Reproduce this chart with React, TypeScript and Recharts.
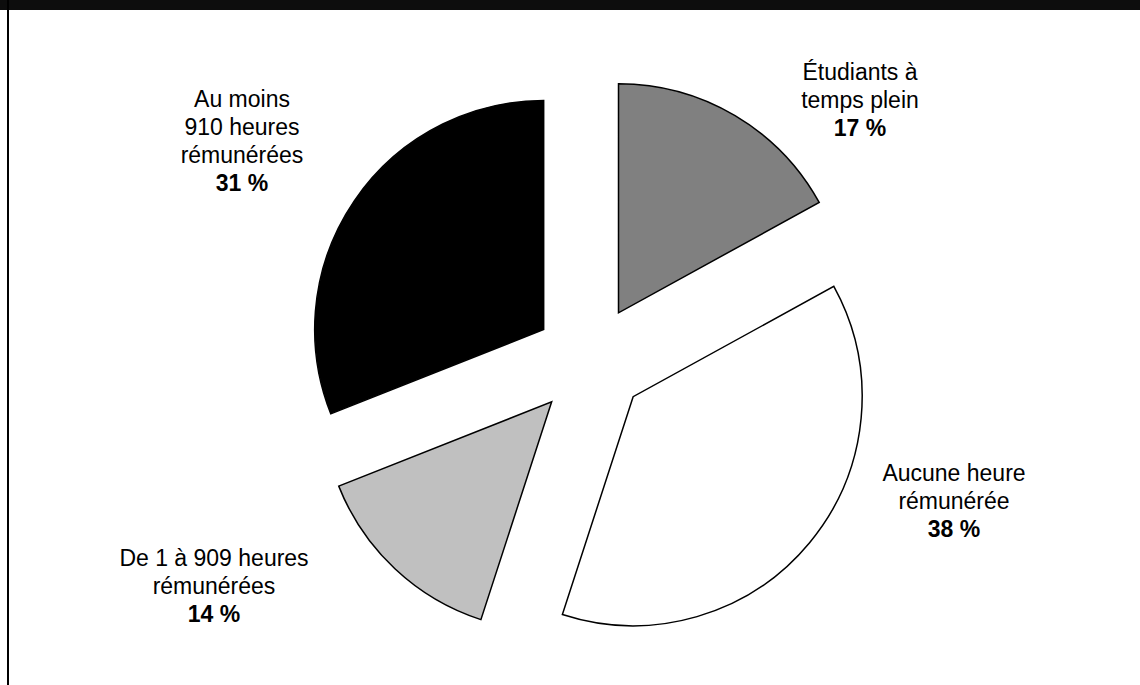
import { Pie, PieChart, Sector } from "recharts";

const categories = [
  "Étudiants à temps plein",
  "Aucune heure rémunérée",
  "De 1 à 909 heures rémunérées",
  "Au moins 910 heures rémunérées",
];
const shares = [17, 38, 14, 31];
const labelLines = [
  ["Étudiants à", "temps plein"],
  ["Aucune heure", "rémunérée"],
  ["De 1 à 909 heures", "rémunérées"],
  ["Au moins", "910 heures", "rémunérées"],
];
const colors = ["#808080", "#ffffff", "#c0c0c0", "#000000"];

const data = categories.map((name, i) => ({
  name,
  value: shares[i],
  fill: colors[i],
}));

// where each label block sits (centre x, first line y)
const labelPos = [
  { x: 860, y: 72 },
  { x: 954, y: 473 },
  { x: 214, y: 558 },
  { x: 242, y: 99 },
];

const RADIAN = Math.PI / 180;
const EXPLODE = 56;
const LINE = 28;

function ExplodedSlice(props: any) {
  const dx = EXPLODE * Math.cos(-props.midAngle * RADIAN);
  const dy = EXPLODE * Math.sin(-props.midAngle * RADIAN);
  return (
    <Sector
      {...props}
      cx={props.cx + dx}
      cy={props.cy + dy}
      stroke="#000"
      strokeWidth={1.5}
    />
  );
}

function SliceLabel(props: any) {
  const i = props.index;
  const pos = labelPos[i];
  const lines = labelLines[i];
  return (
    <text
      x={pos.x}
      y={pos.y}
      textAnchor="middle"
      fill="#000"
      fontFamily="'Liberation Sans', Arial, sans-serif"
      fontSize={23}
    >
      {lines.map((l, k) => (
        <tspan key={k} x={pos.x} y={pos.y + k * LINE} dominantBaseline="central">
          {l}
        </tspan>
      ))}
      <tspan
        x={pos.x}
        y={pos.y + lines.length * LINE}
        dominantBaseline="central"
        fontWeight="bold"
      >
        {shares[i]} %
      </tspan>
    </text>
  );
}

export default function App() {
  return (
    <div
      style={{
        position: "fixed",
        left: 0,
        top: 0,
        width: 1140,
        height: 685,
        background: "#fff",
      }}
    >
      <div
        style={{
          position: "absolute",
          left: 0,
          top: 0,
          width: 1140,
          height: 10,
          background: "#0d0d0d",
        }}
      />
      <div
        style={{
          position: "absolute",
          left: 7,
          top: 0,
          width: 2,
          height: 685,
          background: "#000",
        }}
      />
      <PieChart
        width={1140}
        height={685}
        margin={{ top: 0, right: 0, bottom: 0, left: 0 }}
        style={{ position: "absolute", left: 0, top: 0 }}
      >
        <Pie
          data={data}
          dataKey="value"
          nameKey="name"
          cx={590}
          cy={361}
          outerRadius={229}
          startAngle={90}
          endAngle={-270}
          shape={ExplodedSlice}
          label={SliceLabel}
          labelLine={false}
          isAnimationActive={false}
        />
      </PieChart>
    </div>
  );
}
